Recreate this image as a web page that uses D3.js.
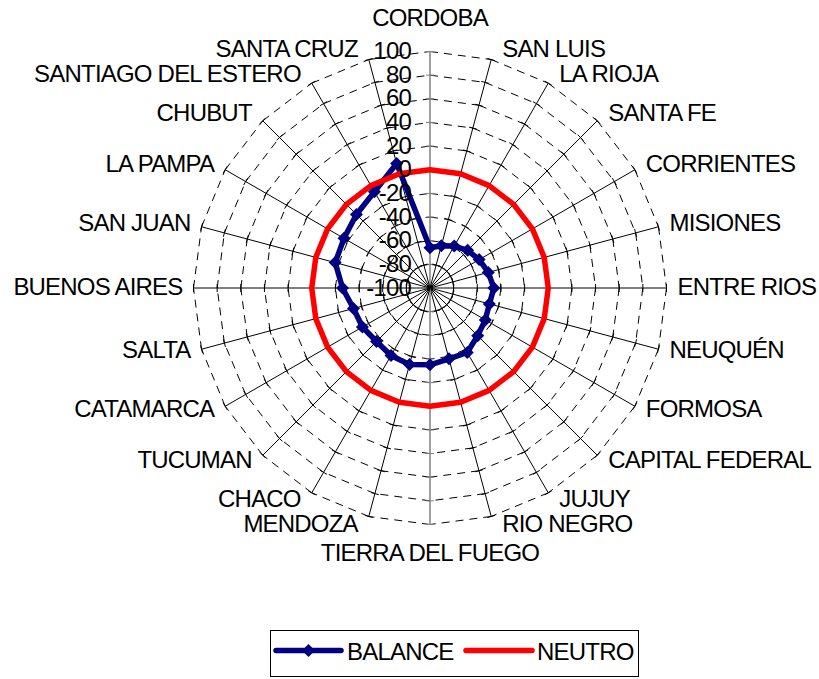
<!DOCTYPE html>
<html><head><meta charset="utf-8">
<script src="https://cdn.jsdelivr.net/npm/d3@7"></script>
<style>body{margin:0;background:#fff}svg{display:block}</style>
</head><body><svg id="c" width="819" height="679"></svg>
<script>
const categories = ["CORDOBA","SAN LUIS","LA RIOJA","SANTA FE","CORRIENTES","MISIONES","ENTRE RIOS","NEUQUÉN","FORMOSA","CAPITAL FEDERAL","JUJUY","RIO NEGRO","TIERRA DEL FUEGO","MENDOZA","CHACO","TUCUMAN","CATAMARCA","SALTA","BUENOS AIRES","SAN JUAN","LA PAMPA","CHUBUT","SANTIAGO DEL ESTERO","SANTA CRUZ"];
const balance = [-66,-63,-59,-55,-52,-49,-46,-48,-46,-43,-37,-38,-35,-33,-34,-36,-34,-33,-26,-17,-16,-12,-6,9];
const neutro = [0,0,0,0,0,0,0,0,0,0,0,0,0,0,0,0,0,0,0,0,0,0,0,0];
const tickValues = [-100,-80,-60,-40,-20,0,20,40,60,80,100];
const seriesNames = ["BALANCE","NEUTRO"];

const svg = d3.select("#c");
const cx = 430, cy = 288, R = 236.5;
const FONT = "'Liberation Sans', Arial, sans-serif";
const r = d3.scaleLinear().domain([-100,100]).range([0,R]);
const ang = d3.scaleLinear().domain([0,categories.length]).range([0,2*Math.PI]);
const pt = (i,v) => [cx + r(v)*Math.sin(ang(i)), cy - r(v)*Math.cos(ang(i))];
const n = categories.length;
const g = svg.append("g");

// dashed polygon rings, each edge drawn separately
tickValues.filter(v => v > -100).forEach(v => {
  for (let i = 0; i < n; i++) {
    const p1 = pt(i,v), p2 = pt(i+1,v);
    g.append("line").attr("x1",p1[0]).attr("y1",p1[1]).attr("x2",p2[0]).attr("y2",p2[1])
      .attr("stroke","#000").attr("stroke-width",1).attr("stroke-dasharray","8,6");
  }
});
// spokes
categories.forEach((c,i) => {
  const p = pt(i,100);
  const vert = (i === 0 || i === n/2);
  g.append("line").attr("x1",cx).attr("y1",cy).attr("x2",p[0]).attr("y2",p[1])
    .attr("stroke", vert ? "#808080" : "#000").attr("stroke-width", vert ? 1.5 : 1);
  // tick marks
  tickValues.filter(v => v > -100).forEach(v => {
    const q = pt(i,v);
    const t = ang(i), ux = Math.cos(t)*4, uy = Math.sin(t)*4;
    g.append("line").attr("x1",q[0]-ux).attr("y1",q[1]-uy).attr("x2",q[0]+ux).attr("y2",q[1]+uy)
      .attr("stroke", vert ? "#808080" : "#000").attr("stroke-width",1);
  });
});

const line = d3.lineRadial().angle((d,i)=>ang(i)).radius(d=>r(d)).curve(d3.curveLinearClosed);
const diamond = s => `M0,${-s}L${s},0L0,${s}L${-s},0Z`;

// BALANCE
g.append("path").attr("d", line(balance)).attr("transform",`translate(${cx},${cy})`)
  .attr("fill","none").attr("stroke","#000080").attr("stroke-width",5.5).attr("stroke-linejoin","round");
balance.forEach((v,i) => {
  const p = pt(i,v);
  g.append("path").attr("d", diamond(6.5)).attr("transform",`translate(${p[0]},${p[1]})`).attr("fill","#000080");
});
// NEUTRO
g.append("path").attr("d", line(neutro)).attr("transform",`translate(${cx},${cy})`)
  .attr("fill","none").attr("stroke","#ff0000").attr("stroke-width",5.5).attr("stroke-linejoin","round");

// value labels
tickValues.forEach(v => {
  g.append("text").attr("x", cx-19).attr("y", cy - r(v) - 1 + 8.6)
    .attr("text-anchor","end").attr("font-family",FONT).attr("font-size",24)
    .attr("letter-spacing",-0.8).attr("fill","#000").text(v);
});

// category labels
categories.forEach((c,i) => {
  const t = ang(i), s = Math.sin(t), co = Math.cos(t);
  const p = pt(i,100);
  let x, yc, anchor;
  if (Math.abs(s) < 1e-6) {
    x = p[0]; anchor = "middle";
    yc = co > 0 ? p[1] - 34.5 : p[1] + 27.5;
  } else {
    anchor = s > 0 ? "start" : "end";
    x = p[0] + (s > 0 ? 11 : -11);
    yc = p[1] - 9*co - 2;
  }
  g.append("text").attr("x",x).attr("y",yc+8.6).attr("text-anchor",anchor)
    .attr("font-family",FONT).attr("font-size",24).attr("letter-spacing",-0.8)
    .attr("fill","#000").text(c);
});

// legend
const lg = svg.append("g");
lg.append("rect").attr("x",270.5).attr("y",630.5).attr("width",368).attr("height",46)
  .attr("fill","#fff").attr("stroke","#000").attr("stroke-width",1);
const legItems = [
  {name: seriesNames[0], color:"#000080", marker:true, x0:276, x1:341, tx:347},
  {name: seriesNames[1], color:"#ff0000", marker:false, x0:466, x1:532, tx:537}
];
legItems.forEach(d => {
  lg.append("line").attr("x1",d.x0).attr("x2",d.x1).attr("y1",650.5).attr("y2",650.5)
    .attr("stroke",d.color).attr("stroke-width",5.5).attr("stroke-linecap","round");
  if (d.marker) lg.append("path").attr("d",diamond(6.5)).attr("transform",`translate(${(d.x0+d.x1)/2},650.5)`).attr("fill",d.color);
  lg.append("text").attr("x",d.tx).attr("y",651+8.6).attr("font-family",FONT).attr("font-size",24)
    .attr("letter-spacing",-0.8).attr("fill","#000").text(d.name);
});
</script></body></html>
